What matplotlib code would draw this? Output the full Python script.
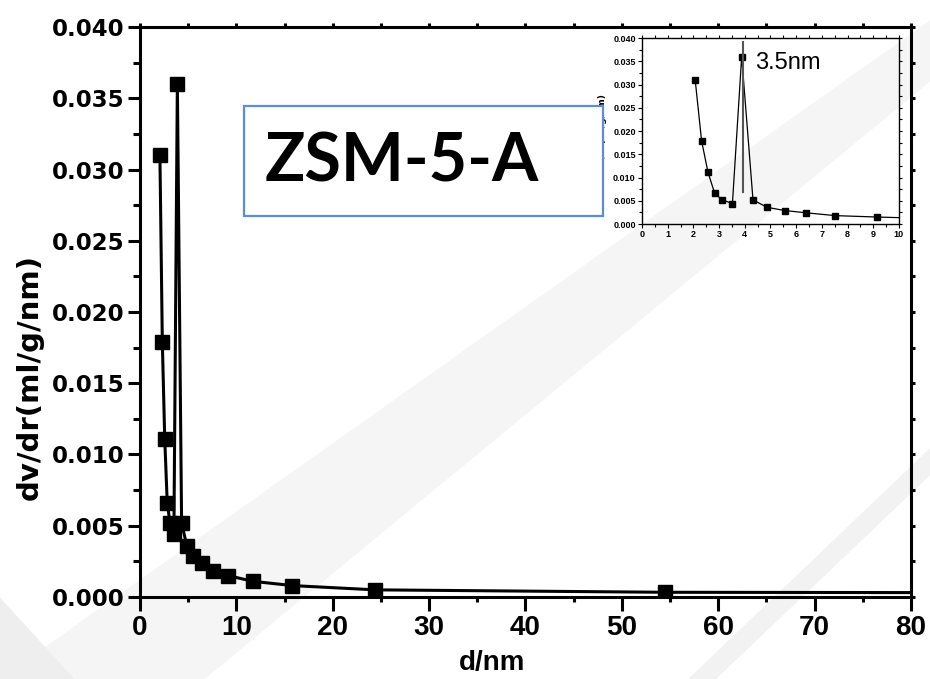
import matplotlib
matplotlib.use("Agg")
import matplotlib.pyplot as plt
from matplotlib.patches import Rectangle, Polygon
from matplotlib.ticker import MultipleLocator, FormatStrFormatter

# pore size distribution (BJH)
d_nm = [2.07, 2.32, 2.57, 2.83, 3.12, 3.52, 3.88, 4.32, 4.86, 5.55, 6.40,
        7.53, 9.15, 11.7, 15.8, 24.4, 54.5, 110.0]
dvdr = [0.0310, 0.0179, 0.0111, 0.0066, 0.0052, 0.0044, 0.0360, 0.0052,
        0.0036, 0.0029, 0.0024, 0.0018, 0.0015, 0.0011, 0.0008, 0.0005,
        0.00033, 0.00028]
peak_d = 3.92
peak_label = "3.5nm"
sample = "ZSM-5-A"

fig = plt.figure(figsize=(9.3, 6.79), dpi=100)

# faint diagonal swooshes of the slide background
for pts, col in [
    ([(0.0, 0.0), (0.22, 0.0), (1.0, 0.88), (1.0, 0.97)], "#f5f5f5"),
    ([(0.74, 0.0), (0.77, 0.0), (1.0, 0.30), (1.0, 0.34)], "#f2f2f2"),
    ([(0.0, 0.0), (0.08, 0.0), (0.0, 0.12)], "#eeeeee"),
]:
    fig.add_artist(Polygon(pts, closed=True, transform=fig.transFigure,
                           facecolor=col, edgecolor="none", zorder=-1))

ax = fig.add_axes([0.1505, 0.1208, 0.829, 0.8394])
ax.set_facecolor("none")
ax.plot(d_nm, dvdr, color="black", lw=2.2, marker="s", ms=10)
ax.set_xlim(0, 80)
ax.set_ylim(0, 0.040)
ax.xaxis.set_major_locator(MultipleLocator(10))
ax.xaxis.set_minor_locator(MultipleLocator(5))
ax.yaxis.set_major_locator(MultipleLocator(0.005))
ax.yaxis.set_minor_locator(MultipleLocator(0.0025))
ax.yaxis.set_major_formatter(FormatStrFormatter("%.3f"))
for s in ax.spines.values():
    s.set_linewidth(2.2)
ax.tick_params(axis="x", which="major", direction="out", length=10, width=2.2,
               labelsize=20, pad=3)
ax.tick_params(axis="x", which="minor", direction="out", length=3.5, width=2.2)
ax.tick_params(axis="y", which="major", direction="out", length=9, width=2.2,
               labelsize=16.5, pad=2)
ax.tick_params(axis="y", which="minor", direction="out", length=5, width=2.2)
ax.tick_params(axis="x", which="both", top=True, labeltop=False)
ax.tick_params(axis="y", which="both", right=True, labelright=False)
for lbl in ax.get_xticklabels():
    lbl.set_fontfamily("Liberation Sans")
    lbl.set_fontweight("bold")
for lbl in ax.get_yticklabels():
    lbl.set_fontweight("bold")
# only small dots on the top / right spines
for t in (ax.xaxis.get_major_ticks() + ax.xaxis.get_minor_ticks()
          + ax.yaxis.get_major_ticks() + ax.yaxis.get_minor_ticks()):
    t.tick2line.set_markersize(3)
    t.tick2line.set_markeredgewidth(2.2)

ax.set_xlabel("d/nm", fontsize=20, fontweight="bold", family="Liberation Sans")
ax.xaxis.set_label_coords(0.4565, -0.093)
ax.set_ylabel("dv/dr(ml/g/nm)", fontsize=21, fontweight="bold")
ax.yaxis.set_label_coords(-0.125, 0.386)

# inset: zoom on 0-10 nm
ins = fig.add_axes([0.6903, 0.6701, 0.2763, 0.2739])
ins.set_facecolor("none")
ins.plot(d_nm, dvdr, color="black", lw=0.9, marker="s", ms=4.5)
ins.plot([peak_d, peak_d], [0.0069, 0.0392], color="#555555", lw=1.5)
ins.text(4.4, 0.0346, peak_label, fontsize=17, family="Liberation Sans",
         va="center", ha="left")
ins.set_xlim(0, 10)
ins.set_ylim(0, 0.040)
ins.xaxis.set_major_locator(MultipleLocator(1))
ins.xaxis.set_minor_locator(MultipleLocator(0.5))
ins.yaxis.set_major_locator(MultipleLocator(0.005))
ins.yaxis.set_minor_locator(MultipleLocator(0.0025))
ins.yaxis.set_major_formatter(FormatStrFormatter("%.3f"))
for s in ins.spines.values():
    s.set_linewidth(1.0)
ins.tick_params(which="major", direction="out", length=3, width=0.8,
                labelsize=6.5, pad=1.5)
ins.tick_params(which="minor", direction="out", length=2, width=0.8)
ins.tick_params(which="both", top=True, right=True)
for t in (ins.xaxis.get_major_ticks() + ins.xaxis.get_minor_ticks()
          + ins.yaxis.get_major_ticks() + ins.yaxis.get_minor_ticks()):
    t.tick2line.set_markersize(2)
for lbl in ins.get_xticklabels() + ins.get_yticklabels():
    lbl.set_fontweight("bold")
    lbl.set_fontfamily("Liberation Sans")
ins.set_ylabel("dv/dr(ml/g/nm)", fontsize=6.5, fontweight="bold")
ins.yaxis.set_label_coords(-0.136, 0.5)

# sample name box (covers most of the inset y label)
fig.add_artist(Rectangle((244 / 930, 1 - 216 / 679), 359 / 930, 110 / 679,
                         transform=fig.transFigure, facecolor="white",
                         edgecolor="#5b8fd5", lw=1.6, zorder=5))
fig.text(265 / 930, 1 - 162 / 679, sample, fontsize=48, fontweight="bold",
         family="Lato", va="center", ha="left", zorder=6)

fig.savefig("out.png", dpi=100)
